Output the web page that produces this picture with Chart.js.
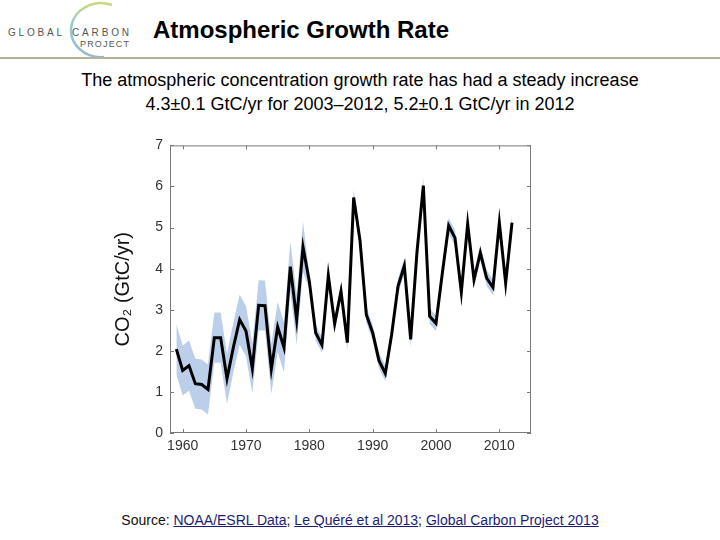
<!DOCTYPE html>
<html>
<head>
<meta charset="utf-8">
<script src="https://cdn.jsdelivr.net/npm/chart.js@4.4.1/dist/chart.umd.min.js"></script>
<style>
  body { margin: 0; width: 720px; height: 540px; background: #fff; position: relative; overflow: hidden;
         font-family: "Liberation Sans", Arial, sans-serif; color: #000; }
  #logo { position: absolute; left: 0; top: 0; }
  #title { position: absolute; left: 153px; top: 16px; font-size: 24px; font-weight: bold; white-space: nowrap; }
  #rule { position: absolute; left: 0; top: 57px; width: 720px; height: 0; border-top: 2px solid #b3b39c; }
  #subtitle { position: absolute; left: 0; top: 68px; width: 720px; text-align: center; font-size: 18px; line-height: 24px; }
  #chartBox { position: absolute; left: 100px; top: 130px; width: 440px; height: 330px; }
  #source { position: absolute; left: 0; top: 512px; width: 720px; text-align: center; font-size: 14px; color: #111; }
  #source a { color: #1c1c78; text-decoration: underline; }
</style>
</head>
<body>
<svg id="logo" width="140" height="60" viewBox="0 0 140 60">
  <defs>
    <linearGradient id="arcGrad" x1="0" y1="0" x2="0" y2="1">
      <stop offset="0" stop-color="#c9d97a"/>
      <stop offset="0.45" stop-color="#8fcbd6"/>
      <stop offset="1" stop-color="#9fb3cf"/>
    </linearGradient>
  </defs>
  <path d="M112 5 A 30 27 0 1 0 104 57" fill="none" stroke="url(#arcGrad)" stroke-width="2.5"/>
  <text x="8" y="36" font-size="10" textLength="54" lengthAdjust="spacing" fill="#555" font-family="Liberation Sans, Arial">GLOBAL</text>
  <text x="72" y="36" font-size="10" textLength="57" lengthAdjust="spacing" fill="#555" font-family="Liberation Sans, Arial">CARBON</text>
  <text x="80" y="47" font-size="9" textLength="49" lengthAdjust="spacing" fill="#555" font-family="Liberation Sans, Arial">PROJECT</text>
</svg>
<div id="title">Atmospheric Growth Rate</div>
<div id="rule"></div>
<div id="subtitle">The atmospheric concentration growth rate has had a steady increase<br>4.3±0.1 GtC/yr for 2003–2012, 5.2±0.1 GtC/yr in 2012</div>
<div id="chartBox"><canvas id="growthChart"></canvas></div>
<div id="source">Source: <a href="#">NOAA/ESRL Data</a>; <a href="#">Le Quéré et al 2013</a>; <a href="#">Global Carbon Project 2013</a></div>

<script>
const years = [
  1959, 1960, 1961, 1962, 1963, 1964, 1965, 1966, 1967, 1968,
  1969, 1970, 1971, 1972, 1973, 1974, 1975, 1976, 1977, 1978,
  1979, 1980, 1981, 1982, 1983, 1984, 1985, 1986, 1987, 1988,
  1989, 1990, 1991, 1992, 1993, 1994, 1995, 1996, 1997, 1998,
  1999, 2000, 2001, 2002, 2003, 2004, 2005, 2006, 2007, 2008,
  2009, 2010, 2011, 2012
];

// atmospheric growth rate, GtC/yr
const growthRate = [
  2.04, 1.52, 1.64, 1.20, 1.18, 1.06, 2.32, 2.32, 1.32, 2.08,
  2.76, 2.48, 1.57, 3.11, 3.10, 1.56, 2.58, 2.08, 4.05, 2.76,
  4.53, 3.69, 2.44, 2.14, 3.83, 2.66, 3.45, 2.20, 5.73, 4.69,
  2.88, 2.44, 1.76, 1.45, 2.40, 3.57, 4.07, 2.28, 4.41, 6.02,
  2.84, 2.67, 3.89, 5.05, 4.75, 3.43, 5.09, 3.73, 4.39, 3.77,
  3.54, 5.12, 3.65, 5.12
];

// one-sigma uncertainty, GtC/yr
const uncertainty = [
  0.61, 0.61, 0.61, 0.61, 0.61, 0.61, 0.61, 0.61, 0.61, 0.61,
  0.61, 0.61, 0.61, 0.61, 0.61, 0.61, 0.61, 0.61, 0.61, 0.61,
  0.61, 0.19, 0.19, 0.19, 0.19, 0.19, 0.19, 0.19, 0.19, 0.19,
  0.19, 0.19, 0.19, 0.19, 0.19, 0.19, 0.19, 0.19, 0.19, 0.19,
  0.19, 0.19, 0.19, 0.19, 0.19, 0.19, 0.19, 0.19, 0.19, 0.19,
  0.19, 0.19, 0.19, 0.19
];

const xTicks = [1960, 1970, 1980, 1990, 2000, 2010];
const yTicks = [0, 1, 2, 3, 4, 5, 6, 7];

const linePoints = years.map((yr, i) => ({ x: yr, y: growthRate[i] }));
const upperPoints = years.map((yr, i) => ({ x: yr, y: growthRate[i] + uncertainty[i] }));
const lowerPoints = years.map((yr, i) => ({ x: yr, y: growthRate[i] - uncertainty[i] }));

// box round the plot with small inward ticks, matlab style
const frameBox = {
  id: "frameBox",
  afterDatasetsDraw(chart) {
    const { ctx, chartArea: a, scales } = chart;
    const len = 4;
    ctx.save();
    ctx.strokeStyle = "#7a7a7a";
    ctx.lineWidth = 1;
    ctx.strokeRect(a.left + 0.5, a.top + 0.5, a.right - a.left - 1, a.bottom - a.top - 1);
    ctx.beginPath();
    xTicks.forEach(t => {
      const px = Math.round(scales.x.getPixelForValue(t)) + 0.5;
      ctx.moveTo(px, a.bottom); ctx.lineTo(px, a.bottom - len);
      ctx.moveTo(px, a.top); ctx.lineTo(px, a.top + len);
    });
    yTicks.forEach(t => {
      const py = Math.round(scales.y.getPixelForValue(t)) + 0.5;
      ctx.moveTo(a.left, py); ctx.lineTo(a.left + len, py);
      ctx.moveTo(a.right, py); ctx.lineTo(a.right - len, py);
    });
    ctx.stroke();
    ctx.restore();
  }
};

new Chart(document.getElementById("growthChart"), {
  type: "line",
  data: {
    datasets: [
      {
        label: "Growth rate",
        data: linePoints,
        borderColor: "#000",
        borderWidth: 3,
        pointRadius: 0,
        tension: 0,
        fill: false
      },
      {
        label: "Upper",
        data: upperPoints,
        borderWidth: 0,
        borderColor: "rgba(0,0,0,0)",
        backgroundColor: "#bccfea",
        pointRadius: 0,
        tension: 0,
        fill: "+1"
      },
      {
        label: "Lower",
        data: lowerPoints,
        borderWidth: 0,
        borderColor: "rgba(0,0,0,0)",
        pointRadius: 0,
        tension: 0,
        fill: false
      }
    ]
  },
  options: {
    responsive: true,
    maintainAspectRatio: false,
    animation: false,
    layout: { padding: { top: 12, right: 9, left: 0, bottom: 0 } },
    plugins: {
      legend: { display: false },
      tooltip: { enabled: false }
    },
    scales: {
      x: {
        type: "linear",
        min: 1958,
        max: 2015,
        afterBuildTicks: s => { s.ticks = xTicks.map(v => ({ value: v })); },
        afterFit: s => { s.height = 27; },
        grid: { display: false, drawTicks: false },
        border: { display: false },
        ticks: { font: { family: "Liberation Sans", size: 14 }, color: "#333", padding: 5, maxRotation: 0,
                 callback: v => String(v) }
      },
      y: {
        min: 0,
        max: 7,
        afterBuildTicks: s => { s.ticks = yTicks.map(v => ({ value: v })); },
        afterFit: s => { s.width = 70; },
        grid: { display: false, drawTicks: false },
        border: { display: false },
        ticks: { font: { family: "Liberation Sans", size: 14 }, color: "#333", padding: 7 },
        title: {
          display: true,
          text: "CO₂ (GtC/yr)",
          font: { family: "Liberation Sans", size: 20 },
          color: "#111",
          padding: { top: 11, bottom: 0 }
        }
      }
    }
  },
  plugins: [frameBox]
});
</script>
</body>
</html>
